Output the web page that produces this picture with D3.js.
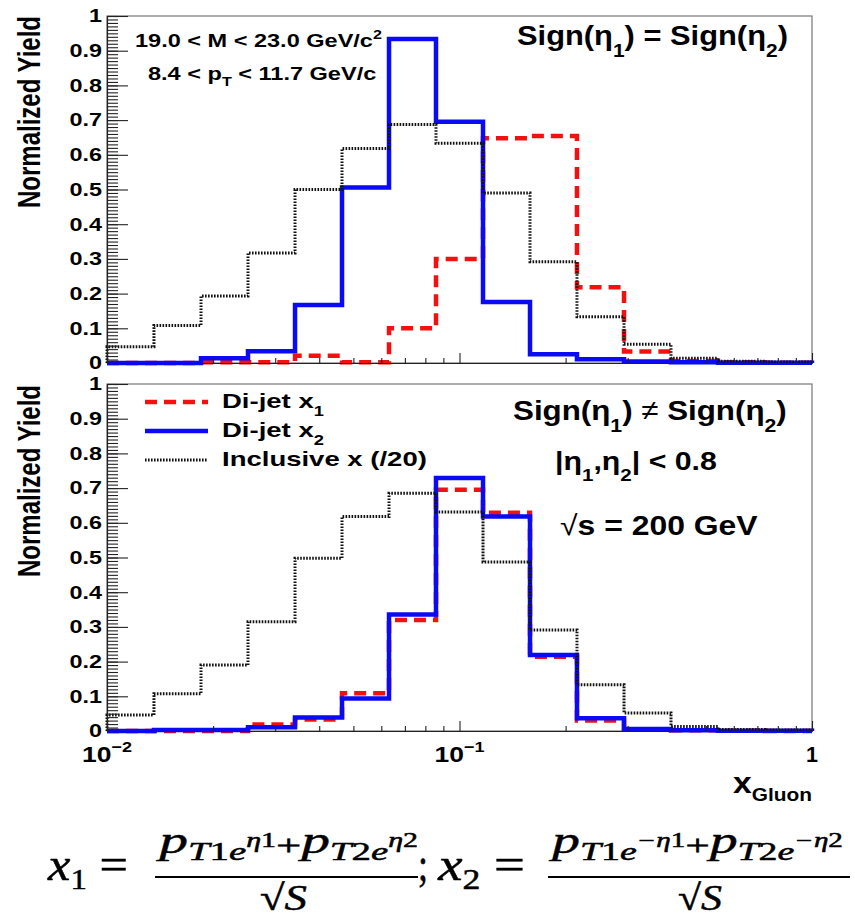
<!DOCTYPE html>
<html>
<head>
<meta charset="utf-8">
<script src="https://cdn.jsdelivr.net/npm/d3@7"></script>
<style>
  body { margin: 0; background: #fff; }
  svg { display: block; }
  text { font-family: "Liberation Sans", Arial, sans-serif; font-weight: bold; fill: #000; }
</style>
</head>
<body>
<svg id="chart" width="855" height="923"></svg>
<script>
// Bin edges (log spaced, 15 bins between 0.01 and 1)
const binEdges = [0.01, 0.01359, 0.01848, 0.02512, 0.03415, 0.04642, 0.0631, 0.08577,
  0.1166, 0.1585, 0.2154, 0.2929, 0.3981, 0.5412, 0.7356, 1];

// Sign(eta1) = Sign(eta2)
const topX1 = [0, 0, 0.002, 0.002, 0.021, 0.002, 0.10, 0.30, 0.648, 0.654, 0.218, 0.033, 0.006, 0.002, 0.001];
const topX2 = [0, 0, 0.014, 0.034, 0.167, 0.506, 0.934, 0.695, 0.176, 0.025, 0.011, 0.004, 0.002, 0.001, 0.001];
const topIncl = [0.047, 0.108, 0.193, 0.317, 0.50, 0.618, 0.687, 0.633, 0.49, 0.292, 0.133, 0.054, 0.014, 0.005, 0.003];

// Sign(eta1) != Sign(eta2)
const botX1 = [0, 0, 0, 0.019, 0.033, 0.109, 0.32, 0.695, 0.629, 0.214, 0.03, 0.004, 0.002, 0.001, 0];
const botX2 = [0, 0.003, 0.003, 0.011, 0.039, 0.094, 0.336, 0.729, 0.618, 0.219, 0.037, 0.006, 0.002, 0.001, 0.001];
const botIncl = [0.046, 0.107, 0.19, 0.315, 0.498, 0.618, 0.685, 0.631, 0.487, 0.291, 0.133, 0.052, 0.013, 0.004, 0.003];

const yMajor = [0, 0.1, 0.2, 0.3, 0.4, 0.5, 0.6, 0.7, 0.8, 0.9, 1];
const yMinor = d3.range(0, 101).map(d => d / 100);
const xMajor = [0.01, 0.1, 1];
const xMinor = [0.02, 0.03, 0.04, 0.05, 0.06, 0.07, 0.08, 0.09, 0.2, 0.3, 0.4, 0.5, 0.6, 0.7, 0.8, 0.9];
const xTickLabels = [["10", "\u22122"], ["10", "\u22121"], ["1", ""]];
const legendLabels = [["Di-jet x", "1"], ["Di-jet x", "2"], ["Inclusive x (/20)", ""]];

const svg = d3.select("#chart");
const left = 107, right = 812;
const x = d3.scaleLog().domain([0.01, 1]).range([left, right]);

const styles = [
  { color: "#f21010", width: 4.5, dash: "12,7" },
  { color: "#0a0af5", width: 4.5, dash: null },
  { color: "#111", width: 3, dash: "1.6,1.4" }
];

// rich text: parts = [{t, size, b (baseline offset), style, weight, family}]
function rich(g, parts) {
  const t = g.append("text");
  let prev = 0;
  parts.forEach(p => {
    const s = t.append("tspan").text(p.t)
      .attr("font-size", p.size)
      .attr("dy", (p.b || 0) - prev);
    if (p.style) s.attr("font-style", p.style);
    if (p.weight) s.attr("font-weight", p.weight);
    if (p.family) s.attr("font-family", p.family);
    prev = p.b || 0;
  });
  return t;
}

// stretch a text to fill [x0, x1] with its baseline at y
function fit(t, x0, x1, y) {
  const b = t.node().getBBox();
  const sx = (x1 - x0) / b.width;
  t.attr("transform", `translate(${x0 - b.x * sx},${y}) scale(${sx},1)`);
  return t;
}

function steps(vals) {
  const pts = [[binEdges[0], 0]];
  vals.forEach((v, i) => pts.push([binEdges[i], v], [binEdges[i + 1], v]));
  pts.push([binEdges[vals.length], 0]);
  return pts;
}

const panels = [
  { top: 16, bottom: 363, series: [topX1, topX2, topIncl], labelY: 112 },
  { top: 384, bottom: 731, series: [botX1, botX2, botIncl], labelY: 481 }
];

panels.forEach((p, pi) => {
  const y = d3.scaleLinear().domain([0, 1]).range([p.bottom, p.top]);
  const g = svg.append("g");

  // frame
  g.append("rect")
    .attr("x", left).attr("y", p.top)
    .attr("width", right - left).attr("height", p.bottom - p.top)
    .attr("fill", "none").attr("stroke", "#777").attr("stroke-width", 1.2);

  // histograms
  const line = d3.line().x(d => x(d[0])).y(d => y(d[1]));
  p.series.forEach((s, i) => {
    g.append("path")
      .attr("d", line(steps(s)))
      .attr("fill", "none")
      .attr("stroke", styles[i].color)
      .attr("stroke-width", styles[i].width)
      .attr("stroke-dasharray", styles[i].dash);
  });

  // y axis
  g.append("g").attr("transform", `translate(${left},0)`)
    .call(d3.axisLeft(y).tickValues(yMinor).tickSizeInner(-11).tickSizeOuter(0).tickFormat(""));
  g.append("g").attr("transform", `translate(${left},0)`)
    .call(d3.axisLeft(y).tickValues(yMajor).tickSizeInner(-21).tickSizeOuter(0).tickFormat(""));

  // x axis
  g.append("g").attr("transform", `translate(0,${p.bottom})`)
    .call(d3.axisBottom(x).tickValues(xMinor).tickSizeInner(-5).tickSizeOuter(0).tickFormat(""));
  g.append("g").attr("transform", `translate(0,${p.bottom})`)
    .call(d3.axisBottom(x).tickValues(xMajor).tickSizeInner(-10).tickSizeOuter(0).tickFormat(""));
  g.selectAll(".domain, .tick line").attr("stroke", "#222").attr("stroke-width", 1.1);

  // y tick labels
  yMajor.forEach(v => {
    g.append("text")
      .attr("transform", `translate(102,${y(v)}) scale(1.3,1)`)
      .attr("text-anchor", "end").attr("dy", "0.35em")
      .attr("font-size", 18)
      .text(v === 0 || v === 1 ? d3.format("d")(v) : d3.format(".1f")(v));
  });

  // y title
  g.append("g")
    .attr("transform", `translate(29,${p.labelY}) scale(1.3,1) rotate(-90)`)
    .append("text")
    .attr("text-anchor", "middle").attr("dy", "0.35em")
    .attr("font-size", 24)
    .text("Normalized Yield");
});

// x tick labels (bottom panel)
xMajor.forEach((v, i) => {
  const [base, sup] = xTickLabels[i];
  const parts = [{ t: base, size: 22, b: 0 }];
  if (sup) parts.push({ t: sup, size: 15, b: -10 });
  const t = rich(svg, parts);
  const w = sup ? 50 : 12;
  fit(t, x(v) - w / 2, x(v) + w / 2, 762);
});

// x title
fit(rich(svg, [{ t: "x", size: 29, b: 0 }, { t: "Gluon", size: 18, b: 8 }]), 733, 812, 793);

// top panel annotations
fit(rich(svg, [{ t: "19.0 < M < 23.0 GeV/c", size: 19, b: 0 }, { t: "2", size: 13, b: -8 }]), 135, 382, 47);
fit(rich(svg, [{ t: "8.4 < p", size: 19, b: 0 }, { t: "T", size: 13, b: 6 }, { t: " < 11.7 GeV/c", size: 19, b: 0 }]), 148, 377, 80);
fit(rich(svg, [
  { t: "Sign(\u03b7", size: 28, b: 0 }, { t: "1", size: 19, b: 12 },
  { t: ") = Sign(\u03b7", size: 28, b: 0 }, { t: "2", size: 19, b: 12 }, { t: ")", size: 28, b: 0 }
]), 517, 788, 45);

// bottom panel annotations
fit(rich(svg, [
  { t: "Sign(\u03b7", size: 28, b: 0 }, { t: "1", size: 19, b: 12 },
  { t: ")  ", size: 28, b: 0 }, { t: "\u2260", size: 28, b: 0, weight: "normal" },
  { t: " Sign(\u03b7", size: 28, b: 0 }, { t: "2", size: 19, b: 12 }, { t: ")", size: 28, b: 0 }
]), 513, 787, 420);
fit(rich(svg, [
  { t: "|\u03b7", size: 25, b: 0 }, { t: "1", size: 17, b: 11 }, { t: ",\u03b7", size: 25, b: 0 },
  { t: "2", size: 17, b: 11 }, { t: "| < 0.8", size: 25, b: 0 }
]), 555, 717, 470);
fit(rich(svg, [
  { t: "\u221a", size: 28, b: 0, weight: "normal" }, { t: "s = 200 GeV", size: 28, b: 0 }
]), 560, 758, 535);

// legend
const legY = [402, 431, 460];
legendLabels.forEach((l, i) => {
  svg.append("line")
    .attr("x1", 145).attr("x2", 208).attr("y1", legY[i]).attr("y2", legY[i])
    .attr("stroke", styles[i].color)
    .attr("stroke-width", styles[i].width)
    .attr("stroke-dasharray", styles[i].dash);
  const parts = [{ t: l[0], size: 21, b: 0 }];
  if (l[1]) parts.push({ t: l[1], size: 14, b: 8 });
  rich(svg, parts).attr("transform", `translate(222,${legY[i] + 6}) scale(1.31,1)`);
});

// formula
const serif = "'Liberation Serif', 'DejaVu Serif', serif";
function mathLine(parts) {
  return rich(svg, parts.map(p => Object.assign({ family: serif, weight: "normal" }, p)))
    .attr("stroke", "#000").attr("stroke-width", 0.5);
}
function numerator(sign) {
  return [
    { t: "p", size: 38, style: "italic", b: 0 },
    { t: "T", size: 26, style: "italic", b: 7 }, { t: "1", size: 26, b: 7 }, { t: "e", size: 26, style: "italic", b: 7 },
    { t: sign + "\u03b7", size: 20, style: "italic", b: -6 }, { t: "1", size: 20, b: -6 },
    { t: "+", size: 30, b: 2 },
    { t: "p", size: 38, style: "italic", b: 0 },
    { t: "T", size: 26, style: "italic", b: 7 }, { t: "2", size: 26, b: 7 }, { t: "e", size: 26, style: "italic", b: 7 },
    { t: sign + "\u03b7", size: 20, style: "italic", b: -6 }, { t: "2", size: 20, b: -6 }
  ];
}
function sqrtS() {
  return [{ t: "\u221a", size: 36, b: 0 }, { t: "S", size: 36, style: "italic", b: 0 }];
}

fit(mathLine([{ t: "x", size: 46, style: "italic", b: 0 }, { t: "1", size: 30, b: 9 }, { t: " =", size: 46, b: 0 }]), 47, 128, 880);
fit(mathLine(numerator("")), 155, 418, 853);
fit(mathLine(sqrtS()), 260, 307, 910);
fit(mathLine([{ t: ";", size: 46, b: 0 }]), 418, 428, 880);
fit(mathLine([{ t: "x", size: 46, style: "italic", b: 0 }, { t: "2", size: 30, b: 9 }, { t: " =", size: 46, b: 0 }]), 437, 525, 880);
fit(mathLine(numerator("\u2212")), 548, 843, 853);
fit(mathLine(sqrtS()), 678, 722, 910);

[[155, 418], [548, 850]].forEach(([a, b]) => {
  svg.append("line").attr("x1", a).attr("x2", b).attr("y1", 877).attr("y2", 877)
    .attr("stroke", "#000").attr("stroke-width", 2.2);
});
</script>
</body>
</html>
